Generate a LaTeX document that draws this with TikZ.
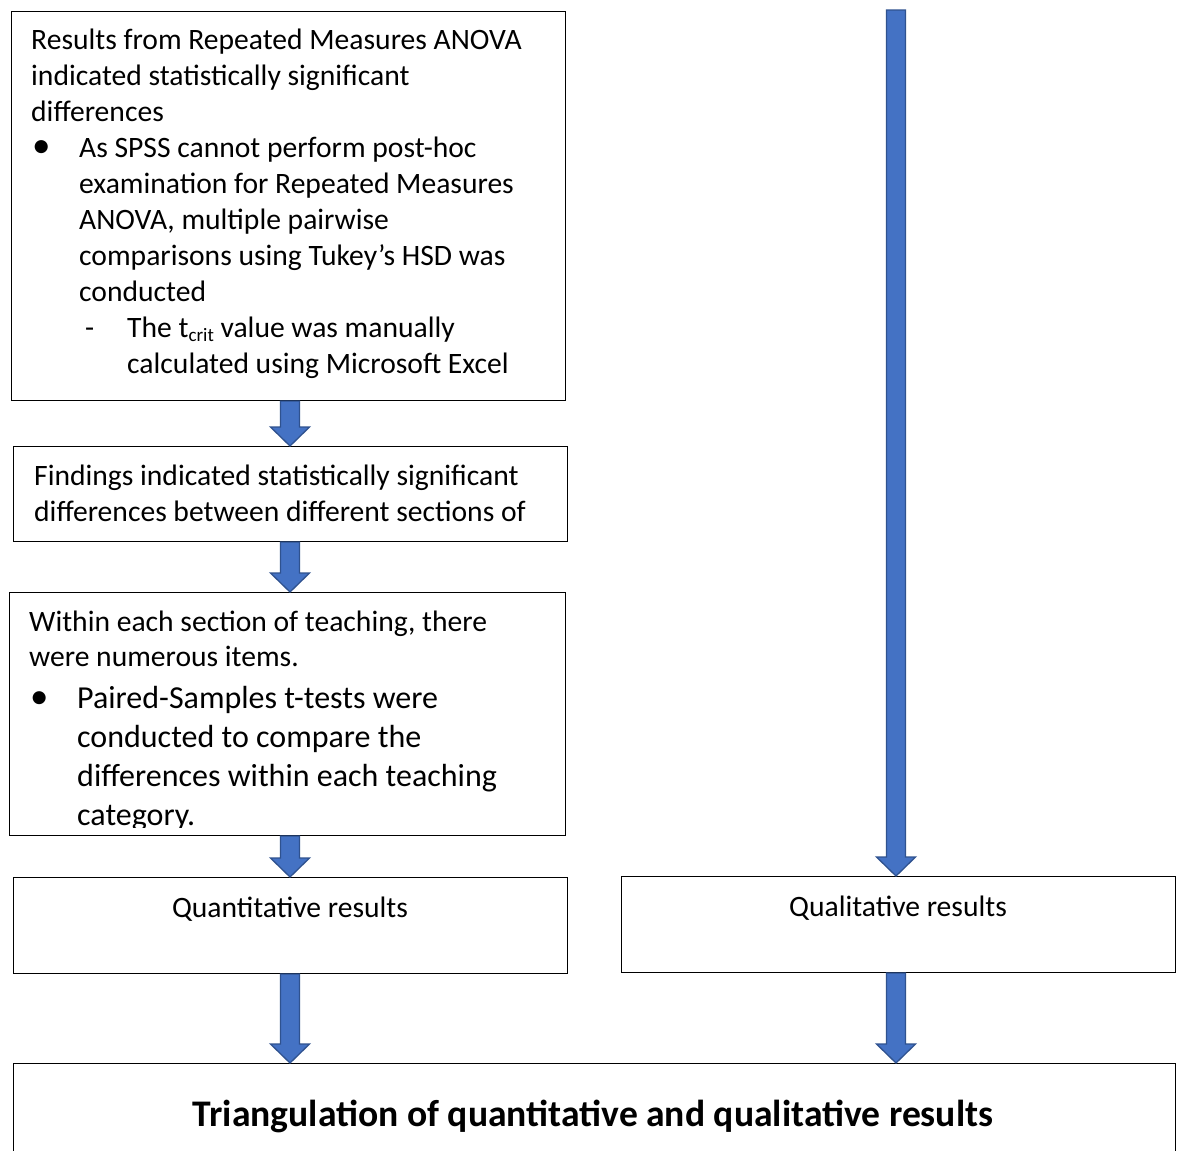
\documentclass[tikz,border=0pt]{standalone}
\usepackage{fontspec}
\setmainfont{Carlito}
\usetikzlibrary{calc}
\definecolor{arrfill}{HTML}{4472C4}
\definecolor{arrline}{HTML}{2F528F}
\newcommand\fsA{\fontsize{29.6}{36}\selectfont}
\newcommand\fsB{\fontsize{32}{39}\selectfont}
\newcommand\fsC{\bfseries\fontsize{37.6}{44}\selectfont}
\newcommand\blockarrow[2]{%
  \draw[blockarr] let \p1=(#1), \p2=(#2) in
    (\x1-9.5pt,\y1) -- (\x1+9.5pt,\y1) -- (\x1+9.5pt,\y2+19pt) -- (\x1+19.5pt,\y2+19pt)
    -- (\x1,\y2) -- (\x1-19.5pt,\y2+19pt) -- (\x1-9.5pt,\y2+19pt) -- cycle;}
\begin{document}
\begin{tikzpicture}[x=1pt,y=-1pt,
  box/.style={draw=black,line width=1pt,inner sep=0pt,anchor=north west},
  ln/.style={anchor=base west,inner sep=0pt,font=\fsA},
  lnb/.style={anchor=base west,inner sep=0pt,font=\fsB},
  blockarr/.style={fill=arrfill,draw=arrline,line width=1.3pt,line join=miter}]
\useasboundingbox (0,0) rectangle (1179,1151);
\clip (0,0) rectangle (1179,1151);
\fill[white] (0,0) rectangle (1179,1151);
% boxes
\node[box,minimum width=554pt,minimum height=389pt] (b1) at (11,11) {};
\node[box,minimum width=554pt,minimum height=95pt] (b2) at (13,446) {};
\node[box,minimum width=556pt,minimum height=243pt] (b3) at (9,592) {};
\node[box,minimum width=554pt,minimum height=96pt] (quant) at (13,877) {};
\node[box,minimum width=554pt,minimum height=96pt] (qual) at (621,876) {};
\node[box,minimum width=1162pt,minimum height=140pt] (bot) at (13,1063) {};
\coordinate (colL) at (290,0);
\coordinate (colR) at (896,0);
\coordinate (topR) at (896,10);
% box 1 text
\node[ln] (t1a) at (31,49) {Results from Repeated Measures ANOVA};
\node[ln] (t1b) at (31,85) {indicated statistically significant};
\node[ln] (t1c) at (31,121) {differences};
\node[ln] (t1d) at (32,157) {\scalebox{1.25}{•}};
\node[ln] (t1e) at (79,157) {As SPSS cannot perform post-hoc};
\node[ln] (t1f) at (79,193) {examination for Repeated Measures};
\node[ln] (t1g) at (79,229) {ANOVA, multiple pairwise};
\node[ln] (t1h) at (79,265) {comparisons using Tukey’s HSD was};
\node[ln] (t1i) at (79,301) {conducted};
\node[ln] (t1j) at (85,337) {-};
\node[ln] (t1k) at (127,337) {The t\raisebox{-4pt}{\fontsize{19}{19}\selectfont crit} value was manually};
\node[ln] (t1l) at (127,373) {calculated using Microsoft Excel};
% box 2 text
\node[ln] (t2a) at (34,485) {Findings indicated statistically significant};
\node[ln] (t2b) at (34,521) {differences between different sections of};
% box 3 text (clipped)
\begin{scope}
\clip (9,592) rectangle (565,827);
\node[ln] (t3a) at (29,631) {Within each section of teaching, there};
\node[ln] (t3b) at (29,666) {were numerous items.};
\node[lnb] (t3c) at (30,708) {\scalebox{1.15}{•}};
\node[lnb] (t3d) at (77,708) {Paired-Samples t-tests were};
\node[lnb] (t3e) at (77,747) {conducted to compare the};
\node[lnb] (t3f) at (77,786) {differences within each teaching};
\node[lnb] (t3g) at (77,825) {category.};
\end{scope}
% result boxes
\node[anchor=base,inner sep=0pt,font=\fsA] (t4) at (290,917) {Quantitative results};
\node[anchor=base,inner sep=0pt,font=\fsA] (t5) at (898,916) {Qualitative results};
\node[anchor=base,inner sep=0pt,font=\fsC] (t6) at (593,1126) {Triangulation of quantitative and qualitative results};
% arrows
\blockarrow{b1.south -| colL}{b2.north -| colL}
\blockarrow{b2.south -| colL}{b3.north -| colL}
\blockarrow{b3.south -| colL}{quant.north -| colL}
\blockarrow{quant.south -| colL}{bot.north -| colL}
\blockarrow{qual.south -| colR}{bot.north -| colR}
\blockarrow{topR}{qual.north -| colR}
\end{tikzpicture}
\end{document}
